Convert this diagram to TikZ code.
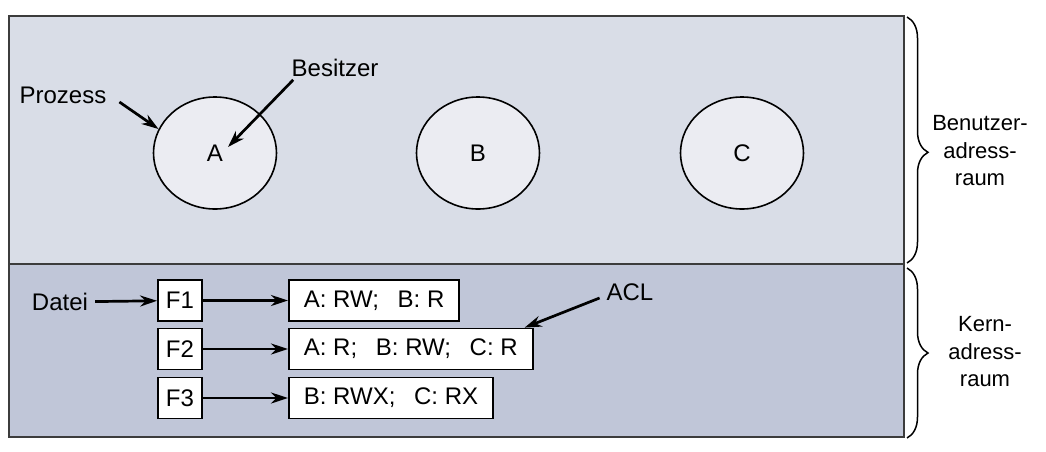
\documentclass[tikz,border=0pt]{standalone}
\usepackage{fontspec}
\setmainfont{Liberation Sans}
\usepackage{tikz}
\usetikzlibrary{positioning,shapes,calc,arrows.meta,decorations.pathreplacing}
\definecolor{userfill}{RGB}{217,221,231}
\definecolor{kernfill}{RGB}{192,198,216}
\definecolor{procfill}{RGB}{235,236,242}
\definecolor{rimgray}{RGB}{60,60,60}

\begin{document}
\begin{tikzpicture}[x=0.5pt,y=-0.5pt,>={Stealth[length=8.5pt,width=5.5pt]},font=\fontsize{12}{13.25}\selectfont]
  \tikzstyle{proc}=[ellipse,draw,fill=procfill,line width=0.8pt,minimum width=61.5pt,minimum height=56pt,inner sep=0pt]
  \tikzstyle{file}=[draw,fill=white,line width=0.9pt,minimum width=22pt,minimum height=20.5pt,inner sep=0pt]
  \tikzstyle{acl}=[draw,fill=white,line width=0.9pt,minimum height=20.5pt,inner xsep=7.5pt,inner ysep=0pt,anchor=west]
  \tikzstyle{ptr}=[->,line width=1.35pt]
  \tikzstyle{brc}=[decorate,decoration={brace,amplitude=10.5pt,aspect=#1},line width=0.75pt]
  \tikzstyle{side}=[align=center,font=\fontsize{11}{13.75}\selectfont]
  \useasboundingbox (0,0) rectangle (1046,451);
  % address spaces
  \coordinate (topL) at (9,16);
  \coordinate (topR) at (904,16);
  \coordinate (midL) at (9,264);
  \coordinate (midR) at (904,264);
  \coordinate (botR) at (904,437);
  \draw[fill=userfill,draw=rimgray,line width=1pt] (topL) rectangle (midR);
  \draw[fill=kernfill,draw=rimgray,line width=1pt] (midL) rectangle (botR);
  \draw[brc=0.55] ([xshift=1.5pt,yshift=-0.5pt]topR) -- ([xshift=1.5pt,yshift=0.5pt]midR);
  \draw[brc=0.5] ([xshift=1.5pt,yshift=-2pt]midR) -- ([xshift=1.5pt,yshift=-0.5pt]botR);
  \node[side] (user) at (980,151) {Benutzer-\\adress-\\raum};
  \node[side] (kern) at (985,352) {Kern-\\adress-\\raum};
  % processes
  \node[proc] (A) at (215,153) {A};
  \node[proc] (B) at (478,153) {B};
  \node[proc] (C) at (742,153) {C};
  \node (Prozess) at (63,95) {Prozess};
  \node (Besitzer) at (335,68) {Besitzer};
  \draw[ptr] ([xshift=3pt,yshift=-3.5pt]Prozess.east) -- (A.157);
  \draw[ptr] ([xshift=4.3pt,yshift=2pt]Besitzer.south west) -- ([xshift=6.5pt,yshift=3pt]A.center);
  % files and ACLs
  \node[file] (F1) at (180,300.5) {F1};
  \node[file] (F2) at (180,349) {F2};
  \node[file] (F3) at (180,398) {F3};
  \node[acl] (L1) at (288,300.5) {A: RW; \enspace B: R};
  \node[acl] (L2) at (288,349) {A: R; \enspace B: RW; \enspace C: R};
  \node[acl] (L3) at (288,398) {B: RWX; \enspace C: RX};
  \node (Datei) at (60,302) {Datei};
  \node (ACL) at (630,292) {ACL};
  \draw[ptr] (Datei) -- (F1);
  \draw[ptr] (F1) -- (L1);
  \draw[ptr] (F2) -- (L2);
  \draw[ptr] (F3) -- (L3);
  \draw[ptr] ([yshift=-3pt]ACL.west) -- ([xshift=-4.5pt]L2.north east);
\end{tikzpicture}
\end{document}
